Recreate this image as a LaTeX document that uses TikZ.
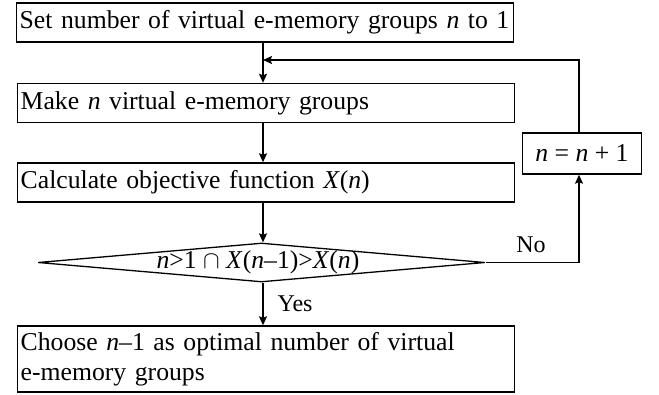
\documentclass[tikz,border=0pt]{standalone}
\usepackage{fontspec}
\setmainfont{Liberation Serif}
\usetikzlibrary{arrows.meta,shapes.geometric}
\newcommand\mainfs{\fontsize{25.7}{30}\selectfont}
\newcommand\labfs{\fontsize{24}{28}\selectfont}
\begin{document}
\begin{tikzpicture}[x=1pt,y=-1pt,
  box/.style={draw,line width=1.4pt,anchor=west,align=left,text width=491pt,
    inner xsep=3pt,inner ysep=0pt,minimum height=39pt,font=\mainfs},
  conn/.style={line width=1.3pt,-{Stealth[length=9pt,width=8pt,inset=1.5pt]}},
  lab/.style={font=\labfs,inner sep=0pt}]
\useasboundingbox (0,0) rectangle (659,394);
\node[box] (b1) at (16,22.5) {\makebox[491pt][l]{Set number of virtual e-memory groups \textit{n} to 1}};
\node[box] (b2) at (17,103) {Make \textit{n} virtual e-memory groups};
\node[box] (b3) at (17,182.5) {Calculate objective function \textit{X}(\textit{n})};
\node[box,minimum height=66pt] (b4) at (17,359) {Choose \textit{n}–1 as optimal number of virtual\\e-memory groups};
\node[draw,line width=1.4pt,minimum width=119pt,minimum height=41pt,inner sep=0pt,font=\mainfs] (inc) at (582,153.5) {\textit{n} = \textit{n} + 1};
\node[diamond,draw,line width=1.3pt,minimum width=447pt,minimum height=39pt,inner sep=0pt] (d) at (261.5,262.5) {};
\node[font=\mainfs,inner sep=0pt] (dt) at (258,262.5) {\textit{n}>1 $\cap$ \textit{X}(\textit{n}–1)>\textit{X}(\textit{n})};
\coordinate (j) at (263,60);
\coordinate (c1) at (579,262.5);
\coordinate (c2) at (579,60);
\draw[conn] (b1.south -| j) -- (b2.north -| j);
\draw[conn] (b2.south -| j) -- (b3.north -| j);
\draw[conn] (b3.south -| j) -- (d.north -| j);
\draw[conn] (d.south -| j) -- node[lab,right=14pt,pos=0.5] (yes) {Yes} (b4.north -| j);
\draw[conn] (d.east) -- (c1) -- (inc.south -| c1);
\draw[conn] (inc.north -| c1) -- (c2) -- (j);
\node[lab] (no) at (531,245) {No};
\end{tikzpicture}
\end{document}
